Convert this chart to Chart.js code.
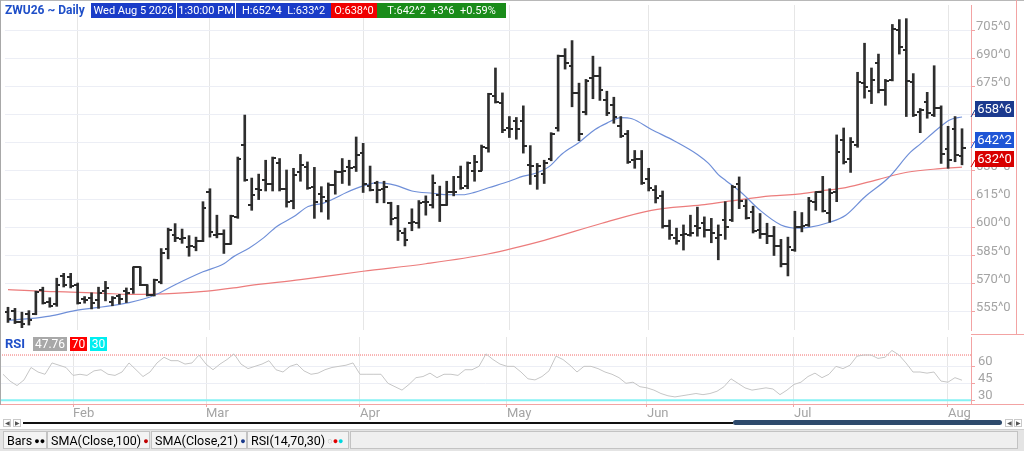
<!DOCTYPE html>
<html><head><meta charset="utf-8">
<script src="https://cdn.jsdelivr.net/npm/chart.js@4.4.1/dist/chart.umd.min.js"></script>
<style>
html,body{margin:0;padding:0;background:#fff;}
body{width:1024px;height:451px;position:relative;overflow:hidden;font-family:Roboto,"Noto Sans",sans-serif;}
canvas{position:absolute;left:0;}
#main{top:0;}
#rsi{top:337px;}
.a{position:absolute;}
.hb{position:absolute;top:3px;height:15px;line-height:15px;font-size:11px;color:#fff;text-align:center;white-space:pre;overflow:hidden;}
.tab{position:absolute;top:431px;height:18px;line-height:18px;font-size:12.5px;color:#000;background:#f3f3f3;border:1px solid #c3c3c3;box-sizing:border-box;padding-left:3px;white-space:nowrap;}
.dot{font-size:9px;vertical-align:1px;margin-left:2px;}
.sb{position:absolute;top:419px;width:8px;height:8px;border:1px solid #c9c9c9;box-sizing:border-box;font-size:6px;line-height:6px;text-align:center;color:#555;}
</style></head>
<body>
<canvas id="main" width="1024" height="335"></canvas>
<canvas id="rsi" width="1024" height="84"></canvas>

<div class="a" style="left:0;top:0;width:1024px;height:1px;background:#b8b8b8"></div>
<div class="a" style="left:0;top:0;width:1px;height:405px;background:#a8a8a8"></div>
<div class="a" style="left:971px;top:0;width:46px;height:335px;border-right:1px solid #f3a3a3;border-bottom:1px solid #f3a3a3;box-sizing:border-box"></div>
<div class="a" style="left:971px;top:334px;width:53px;height:1px;background:#f3a3a3"></div>
<div class="a" style="left:971px;top:404px;width:53px;height:1px;background:#f3a3a3"></div>

<div class="a" id="title" style="left:5px;top:3px;height:15px;line-height:15px;font-size:12px;font-weight:bold;color:#1f4fc8;white-space:nowrap"></div>
<div class="hb" id="hDate" style="left:91px;width:85px;background:#1a3cc8"></div>
<div class="hb" id="hTime" style="left:177px;width:58px;background:#1a3cc8"></div>
<div class="hb" id="hHL" style="left:236px;width:95px;background:#1a3cc8"></div>
<div class="hb" id="hO" style="left:331px;width:46px;background:#f00000"></div>
<div class="hb" id="hT" style="left:377px;width:129px;background:#1a8c1a"></div>

<div class="a" style="left:5px;top:337px;height:14px;line-height:14px;font-size:13px;font-weight:bold;color:#1f4fc8">RSI</div>
<div class="a" id="rsiVal" style="left:33px;top:337px;width:34px;height:14px;line-height:14px;font-size:12px;color:#fff;background:#a8a8a8;text-align:center"></div>
<div class="a" style="left:70px;top:337px;width:17px;height:14px;line-height:14px;font-size:12px;color:#fff;background:#ff0000;text-align:center">70</div>
<div class="a" style="left:90px;top:337px;width:17px;height:14px;line-height:14px;font-size:12px;color:#fff;background:#00eef0;text-align:center">30</div>

<div class="sb" style="left:3px">&#9664;</div>
<div class="sb" style="left:13px">&#9654;</div>
<div class="a" style="left:23px;top:422px;width:710px;height:2px;background:#111"></div>
<div class="a" style="left:733px;top:420px;width:269px;height:5px;border-radius:3px;background:#2e4a6c"></div>
<div class="sb" style="left:1005px">&#9664;</div>
<div class="sb" style="left:1014px">&#9654;</div>

<div class="a" style="left:0;top:429px;width:1024px;height:22px;background:#e4e4e4;border-top:1px solid #cfcfcf;box-sizing:border-box"></div>
<div class="tab" style="left:3px;width:44px">Bars<span class="dot" style="color:#000">&#9679;&#9679;</span></div>
<div class="tab" style="left:47px;width:103px">SMA(Close,100)<span class="dot" style="color:#c00000">&#9679;</span></div>
<div class="tab" style="left:151px;width:96px">SMA(Close,21)<span class="dot" style="color:#1a3a8c">&#9679;</span></div>
<div class="tab" style="left:247px;width:102px">RSI(14,70,30)<span class="dot" style="color:#bbb">&#9675;</span><span class="dot" style="color:#e00000;margin-left:0">&#9679;</span><span class="dot" style="color:#00d8e0;margin-left:0">&#9679;</span></div>
<div class="tab" style="left:350px;width:668px;background:#efefef"></div>

<script>
// ---------- DATA ----------
const dates = ['01-16','01-20','01-21','01-22','01-23','01-26','01-27','01-28','01-29','01-30',
'02-02','02-03','02-04','02-05','02-06','02-09','02-10','02-11','02-12','02-13','02-17','02-18','02-19','02-20','02-23','02-24','02-25','02-26','02-27',
'03-02','03-03','03-04','03-05','03-06','03-09','03-10','03-11','03-12','03-13','03-16','03-17','03-18','03-19','03-20','03-23','03-24','03-25','03-26','03-27','03-30','03-31',
'04-01','04-02','04-06','04-07','04-08','04-09','04-10','04-13','04-14','04-15','04-16','04-17','04-20','04-21','04-22','04-23','04-24','04-27','04-28','04-29','04-30',
'05-01','05-04','05-05','05-06','05-07','05-08','05-11','05-12','05-13','05-14','05-15','05-18','05-19','05-20','05-21','05-22','05-26','05-27','05-28','05-29',
'06-01','06-02','06-03','06-04','06-05','06-08','06-09','06-10','06-11','06-12','06-15','06-16','06-17','06-18','06-22','06-23','06-24','06-25','06-26','06-29','06-30',
'07-01','07-02','07-06','07-07','07-08','07-09','07-10','07-13','07-14','07-15','07-16','07-17','07-20','07-21','07-22','07-23','07-24','07-27','07-28','07-29','07-30','07-31',
'08-03','08-04','08-05'];
const monthNames = ['Jan','Feb','Mar','Apr','May','Jun','Jul','Aug','Sep','Oct','Nov','Dec'];

const opens = [554.7,555.5,549.5,553.8,553.8,566.7,560.2,559.0,574.2,573.6,
569.3,561.6,562.4,561.2,565.9,560.2,563.3,565.9,567.1,578.5,569.0,563.6,570.5,588.3,596.0,593.5,589.5,589.2,592.6,
618.5,596.0,596.4,590.9,605.5,643.8,611.6,620.2,625.4,622.8,634.0,620.5,614.2,629.2,632.3,621.6,617.6,614.2,622.3,629.2,631.9,631.9,
639.5,621.9,623.6,620.5,612.9,604.7,596.9,602.1,602.1,613.3,611.9,617.1,611.9,618.5,626.7,621.9,630.2,630.2,642.3,670.2,666.4,
653.0,656.8,656.4,633.1,627.4,628.5,636.6,653.0,691.2,685.7,671.6,661.6,679.7,680.6,668.0,665.0,653.8,649.5,635.7,636.6,
625.7,619.8,616.4,600.4,594.3,596.0,596.0,600.4,602.1,598.6,594.3,603.8,603.8,622.8,611.2,608.1,598.6,596.1,595.2,590.0,580.2,
587.8,599.9,600.9,613.3,618.5,607.3,618.8,646.4,636.1,644.0,676.8,672.8,687.5,673.3,678.5,705.0,694.7,677.5,661.6,666.7,659.9,663.7,
641.8,652.1,638.0];
const highs = [557.3,556.7,554.7,555.5,565.9,568.0,562.4,572.8,575.4,575.4,
570.2,563.0,565.0,568.0,571.1,563.0,564.2,567.6,578.8,578.8,569.3,572.3,588.6,599.5,601.9,599.0,595.5,594.7,613.6,
620.5,606.4,598.6,606.4,637.4,659.8,626.2,628.3,635.7,637.4,636.6,630.5,631.4,638.8,634.8,631.9,621.6,623.6,630.2,636.6,635.7,648.1,
644.7,632.6,624.5,624.5,613.3,611.6,599.5,609.8,614.2,616.7,627.9,621.9,624.5,627.1,632.6,634.8,638.3,643.8,671.4,684.9,671.6,
659.0,658.5,664.7,643.5,634.0,635.7,650.4,691.8,695.2,699.5,676.8,678.8,691.2,685.4,672.5,669.3,659.0,651.6,640.9,640.9,
631.4,622.2,619.3,603.8,599.5,601.2,606.4,610.7,605.5,604.7,601.2,613.6,622.3,626.8,614.7,611.2,607.3,602.1,600.4,593.5,594.7,
608.5,607.8,615.9,618.8,627.1,620.5,649.2,652.9,647.8,682.6,698.1,684.9,692.3,678.8,708.1,710.7,711.2,681.9,663.3,671.9,686.1,664.7,
653.8,659.0,652.5];
const lows = [549.2,548.6,546.4,547.8,553.3,559.0,557.3,557.8,568.1,567.6,
559.0,559.5,556.4,556.7,560.7,558.1,559.0,559.8,564.7,568.8,563.3,563.3,569.8,583.1,592.3,591.4,584.5,587.4,592.3,
594.7,594.3,586.0,590.9,604.7,624.5,609.0,614.7,619.3,619.3,619.3,610.7,609.8,624.5,620.2,604.7,608.1,604.2,617.6,623.3,622.3,629.7,
618.5,619.3,613.0,613.0,601.2,592.9,590.0,598.1,599.5,606.4,610.2,603.0,611.6,616.7,620.2,620.5,624.5,630.2,640.0,666.2,650.4,
647.8,646.9,639.5,622.8,620.2,623.3,635.4,651.2,684.3,664.2,646.1,659.9,668.5,667.6,659.5,655.4,647.8,634.0,631.4,622.8,
619.3,612.9,599.5,593.5,590.9,587.8,595.2,595.2,594.7,591.7,582.6,593.5,603.0,609.9,604.3,596.9,594.0,591.2,584.9,578.8,574.0,
587.1,597.5,600.4,609.0,608.1,602.6,613.6,633.7,629.2,642.6,668.8,665.9,671.6,665.0,678.0,692.3,659.0,659.0,650.4,658.1,659.0,634.0,
631.4,634.9,633.25];
const closes = [551.2,549.5,548.6,550.4,565.4,559.8,558.1,569.3,569.3,568.5,
559.8,561.2,559.8,565.0,567.6,562.1,561.6,565.0,578.5,569.3,563.6,571.6,586.0,598.6,594.3,594.3,590.0,592.6,610.2,
597.2,596.4,590.9,606.0,636.6,625.0,617.1,619.7,622.8,637.1,620.5,613.3,627.9,633.1,620.7,613.6,615.9,622.3,629.2,629.7,631.4,638.6,
622.8,620.0,619.8,621.6,604.3,597.8,592.9,602.9,613.0,613.6,623.3,611.9,618.5,618.5,621.0,634.3,634.8,642.9,671.1,666.7,651.6,
652.6,652.1,643.5,632.6,632.6,634.0,649.5,691.2,687.8,671.4,649.9,678.0,680.6,673.3,661.0,659.0,648.6,634.8,636.6,623.6,
621.0,615.4,600.4,596.0,592.6,596.4,596.9,599.8,598.6,596.9,595.7,599.9,621.6,614.2,605.0,597.8,596.1,595.2,590.0,580.2,589.5,
599.9,600.4,614.2,618.5,608.5,618.1,640.0,634.9,645.2,677.4,674.5,678.5,673.3,678.0,705.5,696.1,678.0,659.9,662.4,660.7,663.7,639.2,
635.7,638.5,642.25];

const rsi = [53,47,43,48,59,55,53,63,61,59,
52,53,52,56,57,53,52,55,63,57,51,55,63,68,65,65,62,63,70,
62,57,62,66,71,62,58,60,62,65,57,55,60,62,56,53,54,57,59,60,61,63,
53,53,53,53,45,42,39,44,50,51,54,50,53,53,52,57,57,60,71,66,62,
60,60,55,49,48,51,56,69,66,61,55,60,60,58,55,53,50,45,46,42,
41,39,36,34,33,34,35,36,35,36,38,42,49,45,41,39,40,41,40,35,39,
44,46,51,54,50,53,60,58,61,69,70,70,67,68,74,70,63,55,55,54,55,47,
46,50,47.76];

// moving averages: [bar index, value]
const sma21 = [[0,550.3],[3,551.2],[6,552.6],[9.6,555.5],[13,557.2],[17.4,559.8],[21,563.6],[24,569.3],[28,576.2],[31,580.5],[32.4,584.3],[34.6,588.8],
[36.7,594.3],[38.6,600.4],[41,605.5],[43.1,611.0],[45.3,612.8],[46.7,615.0],[48.6,618.5],[51,622.0],[53,623.8],[55.7,622.3],[58,619.3],[61,618.1],[63.4,617.3],[65.3,617.3],[67,618.6],[69,621.0],
[72,624.5],[74,627.2],[76,629.0],[77.7,632.3],[79.6,639.2],[82,645.2],[84.3,652.1],[86,655.5],[88,658.4],[89.6,657.8],[92.4,652.1],[95.7,646.0],[99,638.8],[100.6,634.0],[102,628.0],[103.1,624.8],
[105.3,618.5],[108,609.0],[111,601.2],[113.4,599.5],[115,599.9],[118,602.6],[120.3,606.4],[123,616.0],[126.4,626.2],[129.6,640.0],[131,644.3],[133.4,652.1],[135.3,657.3],[137,658.75]];
const sma100 = [[0,566.7],[4.3,565.9],[9.1,565.4],[13.9,564.7],[17.4,564.2],[23.9,564.7],[28.6,565.9],[32.4,567.6],[34.6,568.8],[42,572.0],[51,576.5],[60,580.5],[68.9,585.7],
[77,593.0],[85.3,602.1],[92.4,609.0],[99.6,611.9],[103.1,613.6],[109.6,616.7],[113.4,617.6],[116.7,619.3],[120.3,621.1],[124.9,625.4],[129.1,629.3],[133.9,631.2],[137,632.0]];

const priceTicks = [555,570,585,600,615,630,645,660,675,690,705];
const rsiTicks = [30,45,60];
const rsiLevels = [70,30];

// ---------- helpers ----------
const N = closes.length;
const last = N - 1;
const monthStarts = [];
for (let i = 1; i < N; i++) if (dates[i].slice(0,2) !== dates[i-1].slice(0,2)) monthStarts.push(i);
function monthOf(i){ return monthNames[parseInt(dates[i].slice(0,2),10)-1]; }
function fmt(v){ let w=Math.floor(v+1e-9); let e=Math.round((v-w)*8); if(e===8){w+=1;e=0;} return w+'^'+e; }

const XMIN = -0.43, XMAX = 138.29;
const PINK = '#f3a3a3';

function tickImg(side){
  const c=document.createElement('canvas'); c.width=7; c.height=2;
  const g=c.getContext('2d'); g.fillStyle='#2a2a2a';
  if(side<0) g.fillRect(0,0,4,2); else g.fillRect(3,0,4,2);
  return c;
}
const openTick = tickImg(-1), closeTick = tickImg(1);

// header texts
const chg = closes[last]-closes[last-1];
document.getElementById('title').textContent = 'ZWU26 ~ Daily';
document.getElementById('hDate').textContent = 'Wed Aug 5 2026';
document.getElementById('hTime').textContent = '1:30:00 PM';
document.getElementById('hHL').textContent = 'H:'+fmt(highs[last])+'  L:'+fmt(lows[last]);
document.getElementById('hO').textContent = 'O:'+fmt(opens[last]);
document.getElementById('hT').textContent = 'T:'+fmt(closes[last])+'  '+(chg>=0?'+':'-')+fmt(Math.abs(chg))+'  '+(chg>=0?'+':'')+(chg/closes[last-1]*100).toFixed(2)+'%';
document.getElementById('rsiVal').textContent = rsi[last].toFixed(2);

const tags = [
  {v: sma21[sma21.length-1][1], bg:'#1c3a8e'},
  {v: closes[last], bg:'#1f55d6'},
  {v: sma100[sma100.length-1][1], bg:'#d80000'}
];
const tagPlugin = {
  id:'tags',
  afterDraw(chart){
    const ctx=chart.ctx, ys=chart.scales.y, a=chart.chartArea;
    tags.forEach(t=>{
      const py=Math.round(ys.getPixelForValue(t.v));
      ctx.save();
      ctx.strokeStyle=t.bg; ctx.lineWidth=1;
      ctx.beginPath(); ctx.moveTo(a.right,py); ctx.lineTo(a.right+4,py-7); ctx.stroke();
      ctx.fillStyle=t.bg; ctx.fillRect(a.right+4,py-16,39,16);
      ctx.fillStyle='#fff'; ctx.font='13px Roboto'; ctx.textAlign='center'; ctx.textBaseline='middle';
      ctx.fillText(fmt(t.v), a.right+4+19.5, py-7.5);
      ctx.restore();
    });
  }
};

const common = {
  responsive:false, animation:false, events:[],
  layout:{padding:0},
  plugins:{legend:{display:false}, tooltip:{enabled:false}}
};

new Chart(document.getElementById('main'), {
  type:'bar',
  data:{ datasets:[
    { type:'bar', data: highs.map((h,i)=>({x:i, y:[lows[i],h]})), backgroundColor:'#2e2e2e', borderWidth:0, barThickness:2, order:1 },
    { type:'line', showLine:false, data: opens.map((o,i)=>({x:i,y:o})), pointStyle:openTick, pointRadius:3, order:0 },
    { type:'line', showLine:false, data: closes.map((c,i)=>({x:i,y:c})), pointStyle:closeTick, pointRadius:3, order:0 },
    { type:'line', data: sma21.map(p=>({x:p[0],y:p[1]})), borderColor:'#6f8fd8', borderWidth:1.2, pointRadius:0, cubicInterpolationMode:'monotone', order:2 },
    { type:'line', data: sma100.map(p=>({x:p[0],y:p[1]})), borderColor:'#ec7c7c', borderWidth:1.2, pointRadius:0, cubicInterpolationMode:'monotone', order:2 }
  ]},
  options:Object.assign({}, common, {
    scales:{
      x:{ type:'linear', min:XMIN, max:XMAX, offset:false,
          grid:{offset:false, color:'#e6e6e6', drawTicks:false},
          border:{display:false}, ticks:{display:false},
          afterBuildTicks:s=>{ s.ticks = monthStarts.map(v=>({value:v})); },
          afterFit:s=>{ s.height=0; s.paddingLeft=0; s.paddingRight=0; } },
      y:{ type:'linear', position:'right', min:545.17, max:718.48,
          grid:{color:'#eceef5', tickLength:4, tickColor:PINK},
          border:{color:PINK},
          ticks:{ color:'#a4a4a4', font:{family:'Roboto', size:13}, padding:1, labelOffset:-4, autoSkip:false, callback:v=>fmt(v) },
          afterBuildTicks:s=>{ s.ticks = priceTicks.map(v=>({value:v})); },
          afterFit:s=>{ s.width=53; s.paddingTop=0; s.paddingBottom=0; } }
    }
  }),
  plugins:[tagPlugin]
});

new Chart(document.getElementById('rsi'), {
  type:'line',
  data:{ datasets:[
    { data: rsi.map((v,i)=>({x:i,y:v})), borderColor:'#c6c6c6', borderWidth:1, pointRadius:0, tension:0 },
    { data: [{x:XMIN,y:rsiLevels[0]},{x:XMAX,y:rsiLevels[0]}], borderColor:'#f26a6a', borderWidth:1, borderDash:[1,1], pointRadius:0 },
    { data: [{x:XMIN,y:rsiLevels[1]},{x:XMAX,y:rsiLevels[1]}], borderColor:'#86f2f4', borderWidth:2, pointRadius:0 }
  ]},
  options:Object.assign({}, common, {
    scales:{
      x:{ type:'linear', min:XMIN, max:XMAX, offset:false,
          grid:{offset:false, color:'#e6e6e6', tickLength:3, tickColor:PINK},
          border:{color:PINK},
          ticks:{ color:'#a4a4a4', font:{family:'Roboto', size:13, lineHeight:1}, padding:0, align:'start', autoSkip:false, maxRotation:0,
                  callback:v=>monthOf(v) },
          afterBuildTicks:s=>{ s.ticks = monthStarts.map(v=>({value:v})); },
          afterFit:s=>{ s.height=17; s.paddingLeft=0; s.paddingRight=0; } },
      y:{ type:'linear', position:'right', min:26.75, max:85.9,
          grid:{color:'#eceef5', tickLength:4, tickColor:PINK},
          border:{color:PINK},
          ticks:{ color:'#a4a4a4', font:{family:'Roboto', size:13}, padding:3, labelOffset:-5, autoSkip:false, callback:v=>String(v) },
          afterBuildTicks:s=>{ s.ticks = rsiTicks.map(v=>({value:v})); },
          afterFit:s=>{ s.width=53; s.paddingTop=0; s.paddingBottom=0; } }
    }
  })
});
</script>
</body></html>
